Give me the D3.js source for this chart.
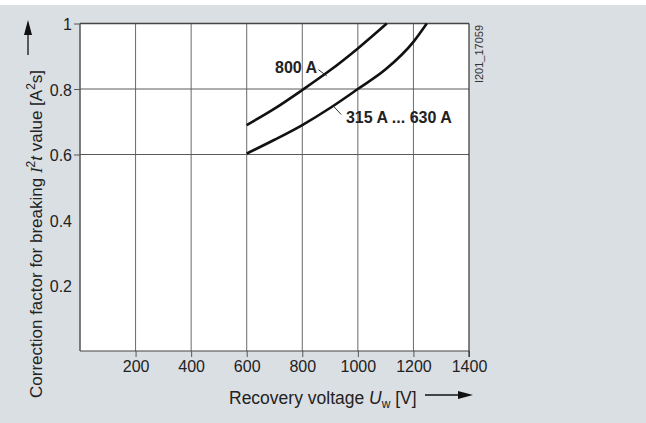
<!DOCTYPE html>
<html>
<head>
<meta charset="utf-8">
<script src="https://cdn.jsdelivr.net/npm/d3@7"></script>
<style>
	body { margin: 0; background: #fff; }
	svg { display: block; font-family: "Liberation Sans", Arial, sans-serif; }
</style>
</head>
<body>
<div id="chart"></div>
<script>
// axis ticks
var xTicks = [200, 400, 600, 800, 1000, 1200, 1400];
var yTicks = [0.2, 0.4, 0.6, 0.8, 1];
var yGrid = [0.6, 0.8, 1];

// curves
var uw800 = [600, 700, 800, 900, 1000, 1104];
var k800 = [0.69, 0.74, 0.797, 0.857, 0.924, 1.0];
var uw315 = [600, 700, 800, 900, 1000, 1100, 1200, 1248];
var k315 = [0.603, 0.645, 0.69, 0.742, 0.8, 0.86, 0.944, 1.0];

var W = 646, H = 423;
var margin = {top: 23.5, right: 177, bottom: 72, left: 80},
	width = W - margin.left - margin.right,
	height = H - margin.top - margin.bottom;

var root = d3.select("#chart")
	.append("svg")
	.attr("width", W)
	.attr("height", H);

// grey panel, white strip on top
root.append("rect")
	.attr("x", 0).attr("y", 5)
	.attr("width", W).attr("height", H - 5)
	.attr("fill", "#dadfe3");

var svg = root.append("g")
	.attr("transform", "translate(" + margin.left + "," + margin.top + ")");

var x = d3.scaleLinear().domain([0, 1400]).range([0, width]);
var y = d3.scaleLinear().domain([0, 1]).range([height, 0]);

svg.append("rect")
	.attr("width", width)
	.attr("height", height)
	.attr("fill", "#fff");

// grid
svg.append("g")
	.selectAll("line")
	.data(xTicks.filter(d => d < 1400))
	.enter()
	.append("line")
	.attr("x1", d => x(d)).attr("x2", d => x(d))
	.attr("y1", 0).attr("y2", height)
	.attr("stroke", "#6a6a6a")
	.attr("stroke-width", 1);

svg.append("g")
	.selectAll("line")
	.data(yGrid.filter(d => d < 1))
	.enter()
	.append("line")
	.attr("x1", 0).attr("x2", width)
	.attr("y1", d => y(d)).attr("y2", d => y(d))
	.attr("stroke", "#5a5a5a")
	.attr("stroke-width", 1);

// x axis
var xAxis = svg.append("g")
	.attr("transform", "translate(0," + height + ")")
	.call(d3.axisBottom(x)
		.tickValues(xTicks)
		.tickSize(6)
		.tickPadding(4)
		.tickFormat(d3.format("d")));
xAxis.select(".domain").remove();
xAxis.selectAll("line").attr("stroke", "#555");
xAxis.selectAll("text")
	.attr("fill", "#222")
	.style("font-size", "16px")
	.style("font-family", "Liberation Sans, Arial, sans-serif");

// y axis
var yAxis = svg.append("g")
	.call(d3.axisLeft(y)
		.tickValues(yTicks)
		.tickSize(6)
		.tickPadding(2)
		.tickFormat(d => d == 1 ? "1" : d3.format(".1f")(d)));
yAxis.select(".domain").remove();
yAxis.selectAll(".tick line")
	.attr("stroke", "#555")
	.attr("opacity", d => yGrid.indexOf(d) >= 0 ? 1 : 0);
yAxis.selectAll("text")
	.attr("fill", "#222")
	.attr("dy", "0.4em")
	.style("font-size", "16px")
	.style("font-family", "Liberation Sans, Arial, sans-serif");

// frame
svg.append("line").attr("x1", 0).attr("x2", width).attr("y1", 0).attr("y2", 0)
	.attr("stroke", "#444").attr("stroke-width", 1.5);
svg.append("line").attr("x1", 0).attr("x2", width).attr("y1", height).attr("y2", height)
	.attr("stroke", "#444").attr("stroke-width", 1.2);
svg.append("line").attr("x1", 0).attr("x2", 0).attr("y1", 0).attr("y2", height)
	.attr("stroke", "#555").attr("stroke-width", 1.5);
svg.append("line").attr("x1", width).attr("x2", width).attr("y1", 0).attr("y2", height + 6)
	.attr("stroke", "#333").attr("stroke-width", 1.2);

// curves
var line = d3.line()
	.x(d => x(d[0]))
	.y(d => y(d[1]))
	.curve(d3.curveMonotoneX);

[d3.zip(uw800, k800), d3.zip(uw315, k315)].forEach(function(pts) {
	svg.append("path")
		.datum(pts)
		.attr("d", line)
		.attr("fill", "none")
		.attr("stroke", "#111")
		.attr("stroke-width", 2.6);
});

// curve labels with leader lines
var labels = [
	{text: "800 A", x: 702, y: 0.849, lx1: 858, ly1: 0.859, lx2: 888, ly2: 0.84},
	{text: "315 A ... 630 A", x: 957, y: 0.696, lx1: 914, ly1: 0.746, lx2: 940, ly2: 0.722}
];
labels.forEach(function(l) {
	svg.append("text")
		.attr("x", x(l.x))
		.attr("y", y(l.y))
		.attr("fill", "#222")
		.attr("font-weight", "bold")
		.style("font-size", "16px")
		.text(l.text);
	svg.append("line")
		.attr("x1", x(l.lx1)).attr("y1", y(l.ly1))
		.attr("x2", x(l.lx2)).attr("y2", y(l.ly2))
		.attr("stroke", "#333")
		.attr("stroke-width", 1);
});

// x axis title + arrow
var xt = root.append("text")
	.attr("x", 229)
	.attr("y", 404)
	.attr("fill", "#222")
	.style("font-size", "17.5px");
xt.append("tspan").text("Recovery voltage ");
xt.append("tspan").attr("font-style", "italic").text("U");
xt.append("tspan").attr("dy", 4).style("font-size", "12px").text("w");
xt.append("tspan").attr("dy", -4).text(" [V]");

root.append("line")
	.attr("x1", 425).attr("x2", 460)
	.attr("y1", 395).attr("y2", 395)
	.attr("stroke", "#111").attr("stroke-width", 1.3);
root.append("path")
	.attr("d", "M473,395 L458,391 L458,399 Z")
	.attr("fill", "#111");

// y axis title + arrow
var yt = root.append("text")
	.attr("transform", "translate(42,398) rotate(-90)")
	.attr("fill", "#222")
	.style("font-size", "17px");
yt.append("tspan").text("Correction factor for breaking ");
yt.append("tspan").attr("font-style", "italic").attr("font-family", "Liberation Serif, serif").text("I");
yt.append("tspan").attr("dy", -7).style("font-size", "12px").text("2");
yt.append("tspan").attr("dy", 7).attr("font-style", "italic").text("t");
yt.append("tspan").text(" value [A");
yt.append("tspan").attr("dy", -7).style("font-size", "12px").text("2");
yt.append("tspan").attr("dy", 7).text("s]");

root.append("line")
	.attr("x1", 28).attr("x2", 28)
	.attr("y1", 55).attr("y2", 33)
	.attr("stroke", "#111").attr("stroke-width", 1.3);
root.append("path")
	.attr("d", "M28,20 L24,35 L32,35 Z")
	.attr("fill", "#111");

// figure id
root.append("text")
	.attr("transform", "translate(483,54) rotate(-90)")
	.attr("text-anchor", "middle")
	.attr("fill", "#333")
	.style("font-size", "11px")
	.text("I201_17059");
</script>
</body>
</html>
